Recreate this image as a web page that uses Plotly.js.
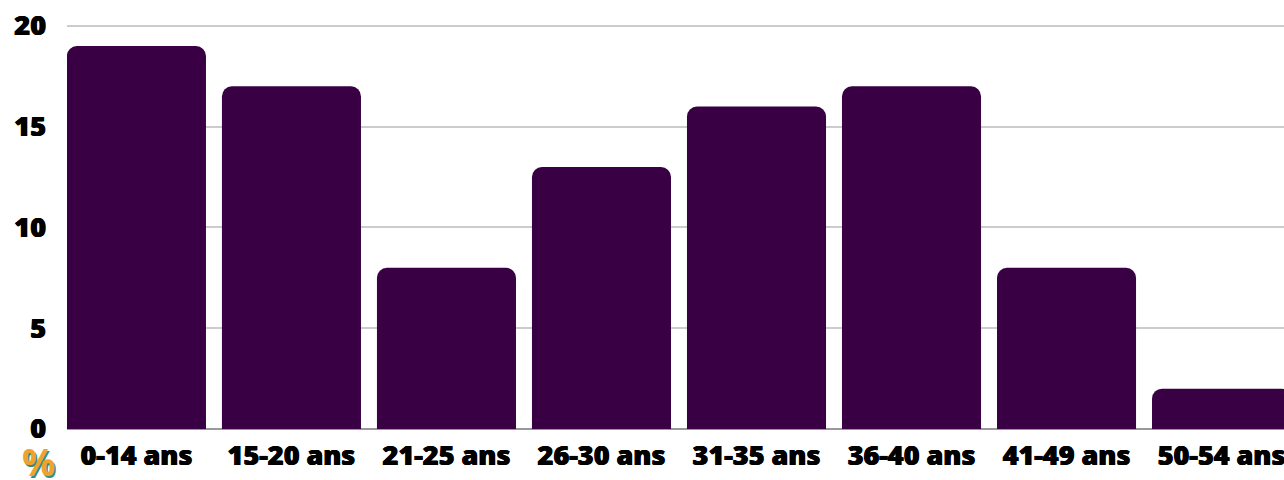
<!DOCTYPE html>
<html>
<head>
<meta charset="utf-8">
<script src="https://cdn.plot.ly/plotly-3.0.1.min.js"></script>
<style>html,body{margin:0;padding:0;background:#fff}</style>
</head>
<body>
<div id="chart" style="width:1284px;height:480px"></div>
<script>
var categories = ['0-14 ans','15-20 ans','21-25 ans','26-30 ans','31-35 ans','36-40 ans','41-49 ans','50-54 ans'];
var values = [19,17,8,13,16,17,8,2];
var yTicks = [0,5,10,15,20];
var unitLabel = '%';
var font = {family:'"Open Sans", sans-serif', size:27, color:'#000000', weight:800,
  shadow:'0.5px 0 0 #000, -0.5px 0 0 #000'};
Plotly.newPlot('chart',[{
  type:'bar',
  x:categories,
  y:values,
  width:0.897,
  marker:{color:'#3a0044',cornerradius:10,line:{width:0}},
  hoverinfo:'skip'
}],{
  width:1284,height:480,
  margin:{l:67,r:0,t:24,b:49.5,pad:0},
  paper_bgcolor:'#ffffff',plot_bgcolor:'#ffffff',
  showlegend:false,
  xaxis:{type:'category',range:[-0.448,7.403],showgrid:false,zeroline:false,
    showline:false,ticks:'',tickfont:font,ticklabeloverflow:'allow',automargin:false,tickangle:0,ticklabelstandoff:7},
  yaxis:{range:[-0.05,20.094],tickvals:yTicks,showgrid:true,gridcolor:'#cccccc',gridwidth:2,
    zeroline:true,zerolinecolor:'#999999',zerolinewidth:1.5,showline:false,
    ticks:'',tickfont:font,ticklabelstandoff:20,automargin:false},
  annotations:[{xref:'paper',yref:'paper',x:-0.0235,y:-0.078,xanchor:'center',yanchor:'middle',showarrow:false,text:unitLabel,
    font:{family:'"Open Sans", sans-serif',size:37,color:'#f0a22e',weight:700,shadow:'1.5px 1.5px 0 #2f8f83'}}]
},{staticPlot:true,displayModeBar:false});
</script>
</body>
</html>
